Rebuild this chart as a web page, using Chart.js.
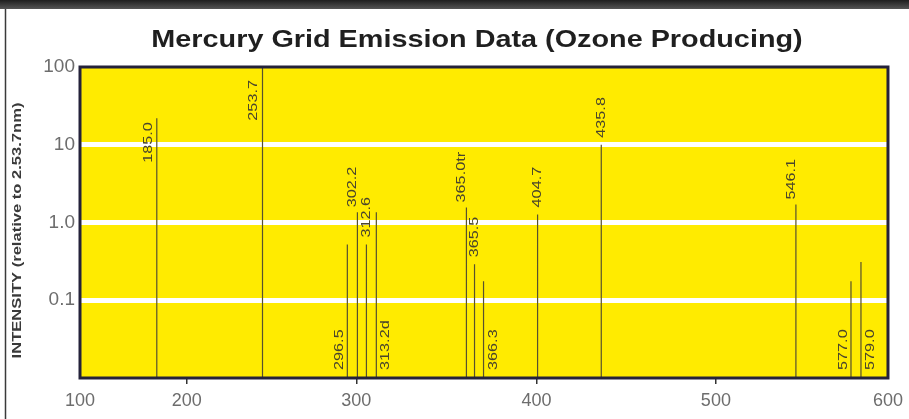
<!DOCTYPE html>
<html>
<head>
<meta charset="utf-8">
<script src="https://cdn.jsdelivr.net/npm/chart.js@4.4.1/dist/chart.umd.min.js"></script>
<style>
  html, body { margin: 0; padding: 0; background: #fff; }
  #wrap { width: 909px; height: 419px; }
</style>
</head>
<body>
<div id="wrap"><canvas id="emissionChart"></canvas></div>
<script>
// Spectral lines as printed on the chart
const wavelengthLabels = ['185.0', '253.7', '296.5', '302.2', '312.6', '313.2d', '365.0tr', '365.5', '366.3', '404.7', '435.8', '546.1', '577.0', '579.0'];
// where each line sits against the x axis
const linePositions = [172, 244.7, 294.7, 300.6, 305.6, 311.1, 361.1, 365.6, 370.6, 400.6, 436.1, 546.5, 578.5, 584.3];
// intensity relative to 253.7nm
const relativeIntensity = [22, 100, 0.52, 1.35, 0.52, 1.35, 1.56, 0.29, 0.175, 1.27, 10, 1.7, 0.175, 0.31];

const xTickValues = [100, 200, 300, 400, 500, 600];
const xTickLabels = ['100', '200', '300', '400', '500', '600'];
const yTickValues = [0.1, 1, 10, 100];
const yTickLabels = ['0.1', '1.0', '10', '100'];

const chartTitle = 'Mercury Grid Emission Data (Ozone Producing)';
const yAxisTitle = 'INTENSITY (relative to 2.53.7nm)';

// the printed x axis is not evenly spaced, so map tick values to fractions of the width
const xBreakFractions = [0, 0.132, 0.342, 0.565, 0.787, 1];

// where each line label goes
const labelSpots = {
  '185.0': 'side', '253.7': 'side', '296.5': 'bottomLeft', '302.2': 'aboveLeft',
  '312.6': 'above', '313.2d': 'bottomRight', '365.0tr': 'aboveLeft', '365.5': 'above',
  '366.3': 'bottomRight', '404.7': 'above', '435.8': 'above', '546.1': 'aboveLeft',
  '577.0': 'bottomLeft', '579.0': 'bottomRight'
};

const FONT = '"Liberation Sans", Arial, sans-serif';

class PiecewiseScale extends Chart.LinearScale {
  getPixelForValue(value) {
    if (value === null || value === undefined) return NaN;
    const v = xTickValues, f = xBreakFractions;
    let frac;
    if (value <= v[0]) frac = f[0];
    else if (value >= v[v.length - 1]) frac = f[f.length - 1];
    else {
      for (let i = 1; i < v.length; i++) {
        if (value <= v[i]) {
          frac = f[i - 1] + (value - v[i - 1]) / (v[i] - v[i - 1]) * (f[i] - f[i - 1]);
          break;
        }
      }
    }
    return this.getPixelForDecimal(frac);
  }
  getValueForPixel(pixel) {
    const d = this.getDecimalForPixel(pixel);
    const v = xTickValues, f = xBreakFractions;
    for (let i = 1; i < f.length; i++) {
      if (d <= f[i]) return v[i - 1] + (d - f[i - 1]) / (f[i] - f[i - 1]) * (v[i] - v[i - 1]);
    }
    return v[v.length - 1];
  }
}
PiecewiseScale.id = 'piecewise';
PiecewiseScale.defaults = Chart.LinearScale.defaults;
Chart.register(PiecewiseScale);

const yMin = 0.01;
const lineData = [];
linePositions.forEach((x, i) => {
  lineData.push({ x: x, y: yMin });
  lineData.push({ x: x, y: relativeIntensity[i] });
  lineData.push({ x: x, y: null });
});

// stretched text helper (the printed lettering is drawn wider than normal)
function stretchedText(c, txt, x, y, angle, sx, align, base) {
  c.save();
  c.translate(x, y);
  c.rotate(angle);
  c.scale(sx, 1);
  c.textAlign = align;
  c.textBaseline = base;
  c.fillText(txt, 0, 0);
  c.restore();
}

// page frame, yellow plot background, titles
const backdrop = {
  id: 'backdrop',
  beforeDraw(chart) {
    const c = chart.ctx, a = chart.chartArea;
    c.save();
    c.fillStyle = '#ffffff';
    c.fillRect(0, 0, chart.width, chart.height);
    const g = c.createLinearGradient(0, 0, 0, 9);
    g.addColorStop(0, '#1e1e1e');
    g.addColorStop(1, '#555555');
    c.fillStyle = g;
    c.fillRect(0, 0, chart.width, 9);
    c.strokeStyle = '#3a3a3a';
    c.lineWidth = 1.5;
    c.beginPath();
    c.moveTo(5.5, 9);
    c.lineTo(5.5, chart.height);
    c.stroke();
    c.fillStyle = '#ffeb00';
    c.fillRect(a.left, a.top, a.right - a.left, a.bottom - a.top);

    c.fillStyle = '#1f1f1f';
    c.font = 'bold 24px ' + FONT;
    stretchedText(c, chartTitle, 477, 40, 0, 1.2, 'center', 'middle');
    c.fillStyle = '#3a3a3a';
    c.font = 'bold 12px ' + FONT;
    stretchedText(c, yAxisTitle, 18, (a.top + a.bottom) / 2 + 8, -Math.PI / 2, 1.38, 'center', 'middle');
    c.restore();
  },
  afterDraw(chart) {
    const c = chart.ctx, a = chart.chartArea;
    c.save();
    c.strokeStyle = '#24223a';
    c.lineWidth = 3;
    c.strokeRect(a.left, a.top, a.right - a.left, a.bottom - a.top);
    c.restore();
  }
};

// rotated wavelength labels next to each line
const lineLabels = {
  id: 'lineLabels',
  afterDatasetsDraw(chart) {
    const c = chart.ctx, a = chart.chartArea;
    const xs = chart.scales.x, ys = chart.scales.y;
    c.save();
    c.fillStyle = '#4a452c';
    c.font = '13px ' + FONT;
    wavelengthLabels.forEach((txt, i) => {
      const px = xs.getPixelForValue(linePositions[i]);
      const top = ys.getPixelForValue(relativeIntensity[i]);
      const spot = labelSpots[txt];
      let ax, ay, align, base;
      if (spot === 'side') {
        ax = px - 5; ay = Math.max(top + 4, a.top + 13); align = 'right'; base = 'alphabetic';
      } else if (spot === 'above') {
        ax = px; ay = top - 7; align = 'left'; base = 'middle';
      } else if (spot === 'aboveLeft') {
        ax = px - 1; ay = top - 5; align = 'left'; base = 'alphabetic';
      } else if (spot === 'bottomLeft') {
        ax = px - 4; ay = a.bottom - 8; align = 'left'; base = 'alphabetic';
      } else {
        ax = px + 3; ay = a.bottom - 8; align = 'left'; base = 'top';
      }
      stretchedText(c, txt, ax, ay, -Math.PI / 2, 1.25, align, base);
    });
    c.restore();
  }
};

new Chart(document.getElementById('emissionChart'), {
  type: 'scatter',
  data: {
    datasets: [{
      label: 'Emission lines',
      data: lineData,
      showLine: true,
      spanGaps: false,
      borderColor: '#57512f',
      borderWidth: 1.2,
      pointRadius: 0,
      pointHoverRadius: 0
    }]
  },
  options: {
    responsive: true,
    maintainAspectRatio: false,
    animation: false,
    layout: { padding: { left: 0, right: 20, top: 67, bottom: 0 } },
    plugins: {
      legend: { display: false },
      tooltip: { enabled: false },
      title: { display: false }
    },
    scales: {
      x: {
        type: 'piecewise',
        min: 100,
        max: 600,
        afterBuildTicks: axis => { axis.ticks = xTickValues.map(v => ({ value: v })); },
        afterFit: axis => { axis.height = 41; },
        ticks: {
          autoSkip: false,
          maxRotation: 0,
          padding: 6,
          color: '#6d6d6d',
          font: { family: FONT, size: 18 },
          callback: (v, i) => xTickLabels[i]
        },
        grid: {
          drawOnChartArea: false,
          drawTicks: true,
          tickLength: 6,
          lineWidth: 1.5,
          color: ctx => (ctx.index === 0 || ctx.index === xTickValues.length - 1) ? 'rgba(0,0,0,0)' : '#333333'
        },
        border: { display: false }
      },
      y: {
        type: 'logarithmic',
        min: yMin,
        max: 100,
        afterBuildTicks: axis => { axis.ticks = yTickValues.map(v => ({ value: v })); },
        afterFit: axis => { axis.width = 80; },
        ticks: {
          padding: 5,
          color: '#6d6d6d',
          font: { family: FONT, size: 19 },
          callback: (v, i) => yTickLabels[i]
        },
        grid: {
          drawTicks: false,
          lineWidth: 5,
          color: ctx => (ctx.tick && ctx.tick.value === 100) ? 'rgba(0,0,0,0)' : '#ffffff'
        },
        border: { display: false },
        title: { display: false }
      }
    }
  },
  plugins: [backdrop, lineLabels]
});
</script>
</body>
</html>
